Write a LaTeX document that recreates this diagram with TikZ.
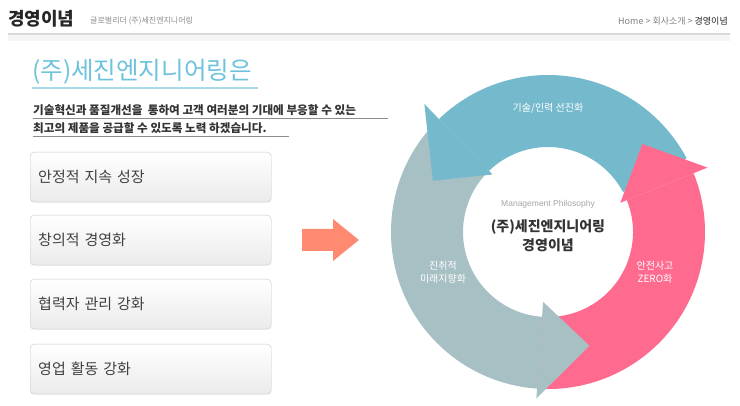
\documentclass[tikz,border=0pt]{standalone}
\usepackage{fontspec}
\setmainfont{Noto Sans CJK KR}
\newfontfamily\lat{Liberation Sans}
\usetikzlibrary{calc}
\definecolor{cblue}{HTML}{75BACC}
\definecolor{cpink}{HTML}{FF6B8F}
\definecolor{cgray}{HTML}{A7C0C4}
\definecolor{ctitle}{HTML}{6CC3DB}
\definecolor{corange}{HTML}{FF8A72}
\tikzset{
  optbox/.style={draw=black!22,rounded corners=4pt,top color=white,bottom color=black!8,minimum width=241pt,minimum height=50pt,anchor=north west,text width=225pt,align=left,font=\fontsize{15}{18}\selectfont,text=black!75},
  wtext/.style={text=white,font=\fontsize{10}{13}\selectfont,align=center}
}
\newcommand{\sector}[5]{\fill[#1] ([shift={(C)}]#2:#4) arc[start angle=#2,end angle=#3,radius=#4] -- ([shift={(C)}]#3:#5) arc[start angle=#3,end angle=#2,radius=#5] -- cycle;}
\begin{document}
\begin{tikzpicture}[x=1pt,y=1pt]
\useasboundingbox[fill=white] (0,0) rectangle (740,-406);
% header
\node[anchor=west,font=\fontsize{18}{20}\selectfont\bfseries,text=black!85,inner sep=0] (h1) at (8,-19) {경영이념};
\node[anchor=west,font=\fontsize{8}{10}\selectfont,text=black!45,inner sep=0] (h2) at (90,-21) {글로벌리더 (주)세진엔지니어링};
\node[anchor=east,font=\fontsize{9}{11}\selectfont,text=black!50,inner sep=0] (h3) at (728,-21) {Home \textgreater{} 회사소개 \textgreater{} \textcolor{black!85}{경영이념}};
\fill[black!4] (8,-35) rectangle (730,-41);
\draw[black!15,line width=1.2pt] (8,-34) -- (730,-34);
% title
\node[anchor=west,font=\fontsize{24.5}{30}\selectfont,text=ctitle,inner sep=0] (t) at (32,-72) {(주)세진엔지니어링은};
\draw[ctitle!60,line width=1.2pt] (32,-88) -- (258,-88);
\node[anchor=west,font=\fontsize{11.6}{13}\selectfont\bfseries,text=black!80,inner sep=0] (s1) at (33,-110) {기술혁신과 품질개선을 \ 통하여 고객 여러분의 기대에 부응할 수 있는};
\draw[black!45,line width=1pt] (33,-119) -- (388,-119);
\node[anchor=west,font=\fontsize{11.6}{13}\selectfont\bfseries,text=black!80,inner sep=0] (s2) at (33,-128) {최고의 제품을 공급할 수 있도록 노력 하겠습니다.};
\draw[black!45,line width=1pt] (33,-137) -- (289,-137);
% boxes
\node[optbox] (b1) at (30,-152) {안정적 지속 성장};
\node[optbox] (b2) at (30,-215) {창의적 경영화};
\node[optbox] (b3) at (30,-279) {협력자 관리 강화};
\node[optbox] (b4) at (30,-344) {영업 활동 강화};
% orange arrow
\fill[corange] (302,-229) -- (333,-229) -- (333,-219) -- (359,-240) -- (333,-261) -- (333,-251) -- (302,-251) -- cycle;
% cycle
\coordinate (C) at (548,-232);
\sector{cblue}{28}{134}{157}{85}
\sector{cgray}{134}{266}{157}{85}
\sector{cpink}{266}{382}{157}{85}
\fill[cblue] ([shift={(C)}]134:80) -- ([shift={(C)}]134:178) -- ([shift={(C)}]156:126) -- cycle;
\fill[cgray] ([shift={(C)}]266:70) -- ([shift={(C)}]266:167) -- ([shift={(C)}]290:121) -- cycle;
\fill[cpink] ([shift={(C)}]382:78) -- ([shift={(C)}]382:172) -- ([shift={(C)}]403:129) -- cycle;
\node[wtext] (l1) at (548,-108) {기술/인력 선진화};
\node[wtext] (l2) at (655,-272) {안전사고\\ZERO화};
\node[wtext] (l3) at (443,-272) {진취적\\미래지향화};
\node[font=\lat\fontsize{8.5}{10}\selectfont,text=black!35] (c1) at (548,-204) {Management Philosophy};
\node[font=\fontsize{14}{19}\selectfont\bfseries,text=black!80,align=center] (c2) at (548,-236) {(주)세진엔지니어링\\경영이념};
\end{tikzpicture}
\end{document}
